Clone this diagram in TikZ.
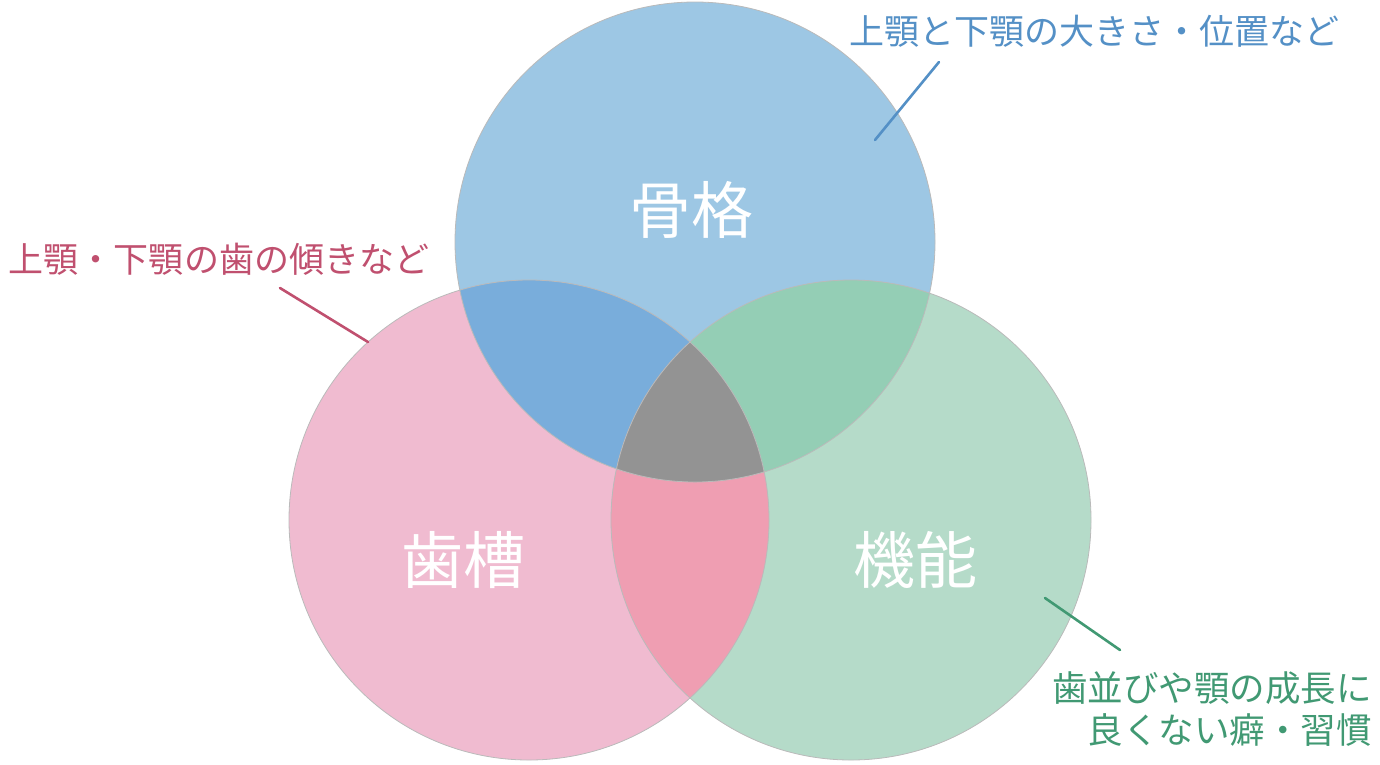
\documentclass[tikz,border=0pt]{standalone}
\usepackage{fontspec}
\setmainfont{Noto Sans CJK JP}
\definecolor{cblue}{HTML}{9DC7E4}
\definecolor{cpink}{HTML}{F0BBD0}
\definecolor{cgreen}{HTML}{B5DBC9}
\definecolor{cbp}{HTML}{79ADDB}
\definecolor{cbg}{HTML}{94CEB5}
\definecolor{cpg}{HTML}{EF9EB2}
\definecolor{cmid}{HTML}{939393}
\definecolor{tblue}{HTML}{5490C6}
\definecolor{tpink}{HTML}{C0506F}
\definecolor{tgreen}{HTML}{419973}
\begin{document}
\begin{tikzpicture}[x=1pt,y=-1pt,
  big/.style={text=white,font=\fontsize{62}{66}\selectfont,inner sep=0pt},
  lab/.style={font=\fontsize{35}{42}\selectfont,inner sep=0pt},
  lead/.style={line width=2.6pt,line cap=round}]
\useasboundingbox (0,0) rectangle (1380,764);
\coordinate (B) at (695,242);
\coordinate (P) at (529,520);
\coordinate (G) at (851,520);
\def\R{240}
% single fills
\fill[cblue] (B) circle (\R);
\fill[cpink] (P) circle (\R);
\fill[cgreen] (G) circle (\R);
% pairwise
\begin{scope}\clip (B) circle (\R); \fill[cbp] (P) circle (\R); \fill[cbg] (G) circle (\R);\end{scope}
\begin{scope}\clip (P) circle (\R); \fill[cpg] (G) circle (\R);\end{scope}
\begin{scope}\clip (B) circle (\R); \clip (P) circle (\R); \fill[cmid] (G) circle (\R);\end{scope}
% outlines
\draw[black!27,line width=0.8pt] (B) circle (\R) (P) circle (\R) (G) circle (\R);
% big labels
\node[big] (tb) at (691,210) {骨格};
\node[big] (tp) at (463,560) {歯槽};
\node[big] (tg) at (915,560) {機能};
% annotations
\node[lab,text=tblue,anchor=center] (lb) at (1094,31) {上顎と下顎の大きさ・位置など};
\node[lab,text=tpink,anchor=center] (lp) at (219,259) {上顎・下顎の歯の傾きなど};
\node[lab,text=tgreen,align=right,anchor=east,font=\fontsize{35.5}{42}\selectfont] (lg) at (1372,709) {歯並びや顎の成長に\\良くない癖・習慣};
\coordinate (bb) at (875,140);
\coordinate (ba) at (939,62);
\coordinate (pa) at (280,288);
\coordinate (pb) at (368,342);
\coordinate (ga) at (1045,598);
\coordinate (gb) at (1120,650);
\draw[lead,tblue] (ba) -- (bb);
\draw[lead,tpink] (pa) -- (pb);
\draw[lead,tgreen] (ga) -- (gb);
\end{tikzpicture}
\end{document}
